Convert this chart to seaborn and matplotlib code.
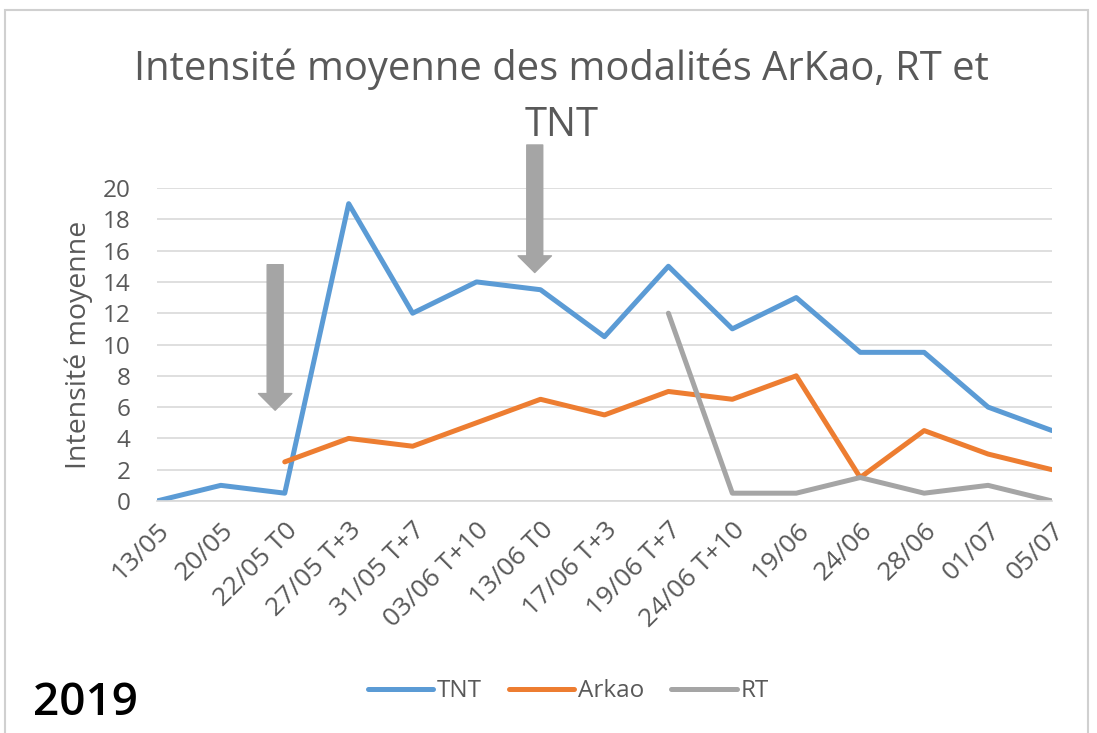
import numpy as np
import pandas as pd
import matplotlib.pyplot as plt
import seaborn as sns
from matplotlib.patches import Rectangle

dates = ['13/05', '20/05', '22/05 T0', '27/05 T+3', '31/05 T+7', '03/06 T+10',
         '13/06 T0', '17/06 T+3', '19/06 T+7', '24/06 T+10', '19/06', '24/06',
         '28/06', '01/07', '05/07']
tnt = [0, 1, 0.5, 19, 12, 14, 13.5, 10.5, 15, 11, 13, 9.5, 9.5, 6, 4.5]
arkao = [np.nan, np.nan, 2.5, 4, 3.5, 5, 6.5, 5.5, 7, 6.5, 8, 1.5, 4.5, 3, 2]
rt = [np.nan] * 8 + [12, 0.5, 0.5, 1.5, 0.5, 1, 0]

df = pd.DataFrame({'idx': range(len(dates)), 'TNT': tnt, 'Arkao': arkao, 'RT': rt})
long = df.melt(id_vars='idx', var_name='serie', value_name='val').dropna()

sns.set_theme(style='white')
plt.rcParams['font.family'] = ['Open Sans', 'DejaVu Sans']

fig = plt.figure(figsize=(10.97, 7.33), dpi=100)
ax = fig.add_axes([0.143, 0.3165, 0.816, 0.427])

palette = {'TNT': '#5B9BD5', 'Arkao': '#ED7D31', 'RT': '#A5A5A5'}
sns.lineplot(data=long, x='idx', y='val', hue='serie', palette=palette,
             linewidth=3.6, ax=ax, legend=True)

ax.set_xlim(0, len(dates) - 1)
ax.set_ylim(0, 20)
ax.set_yticks(range(0, 21, 2))
ax.set_xticks(range(len(dates)))
ax.set_xticklabels(dates, rotation=45, ha='right', rotation_mode='anchor')
ax.tick_params(axis='x', length=8, color='#d9d9d9', width=1, pad=4, labelsize=19, labelcolor='#595959')
ax.tick_params(axis='y', length=0, pad=19, labelsize=17.5, labelcolor='#595959')
ax.grid(axis='y', color='#d9d9d9', linewidth=1.2)
for s in ['top', 'right', 'left']:
    ax.spines[s].set_visible(False)
ax.spines['bottom'].set_color('#d9d9d9')
ax.set_xlabel('')
ax.set_ylabel('Intensité moyenne', fontsize=20.5, color='#595959', labelpad=7)

# flèches grises
for x0, ytop, ytip in [(1.85, 15.1, 5.8), (5.91, 22.75, 14.6)]:
    ax.annotate('', xy=(x0, ytip), xytext=(x0, ytop), annotation_clip=False,
                arrowprops=dict(width=11.5, headwidth=24, headlength=12,
                                color='#a5a5a5', shrink=0))

fig.text(0.512, 0.905, 'Intensité moyenne des modalités ArKao, RT et',
         ha='center', va='center', fontsize=28.7, color='#595959')
fig.text(0.512, 0.828, 'TNT', ha='center', va='center', fontsize=28.7, color='#595959')

handles, labels = ax.get_legend_handles_labels()
ax.get_legend().remove()
fig.legend(handles, labels, loc='center', bbox_to_anchor=(0.518, 0.057), ncol=3,
           frameon=False, fontsize=17.5, labelcolor='#595959', handlelength=2.7,
           columnspacing=1.1, handletextpad=0.15)

fig.text(0.03, 0.04, '2019', fontsize=33, fontweight='semibold', color='black',
         ha='left', va='center')

fig.patches.append(Rectangle((0.005, -0.01), 0.987, 0.997, transform=fig.transFigure,
                             fill=False, edgecolor='#d0d0d0', linewidth=1.5))

fig.savefig('out.png', dpi=100)
